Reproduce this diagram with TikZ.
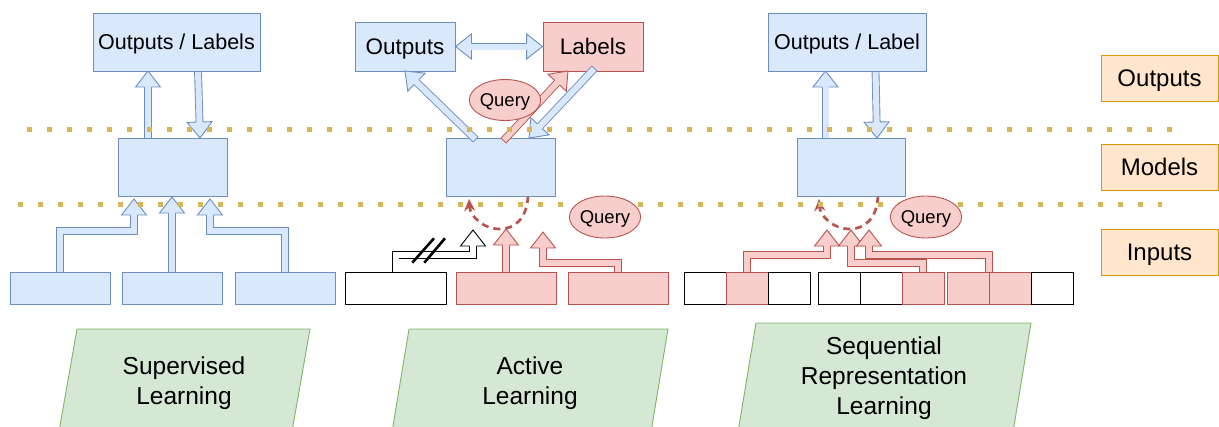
\documentclass[tikz,border=0pt]{standalone}
\usepackage{fontspec}
\setmainfont{Liberation Sans}
\usetikzlibrary{calc,shapes.geometric,arrows.meta}
\definecolor{bfill}{HTML}{DAE8FC}
\definecolor{bdraw}{HTML}{6C8EBF}
\definecolor{rfill}{HTML}{F8CECC}
\definecolor{rdraw}{HTML}{B85450}
\definecolor{ofill}{HTML}{FFE6CC}
\definecolor{odraw}{HTML}{D79B00}
\definecolor{gfill}{HTML}{D5E8D4}
\definecolor{gdraw}{HTML}{82B366}
\definecolor{dotc}{HTML}{D6B656}
\pgfdeclarelayer{bg}
\pgfsetlayers{bg,main}
\tikzset{
  box/.style={rectangle, inner sep=0pt, line width=0.9pt, text depth=0pt},
  bluebox/.style={box, fill=bfill, draw=bdraw},
  redbox/.style={box, fill=rfill, draw=rdraw},
  whitebox/.style={box, fill=white, draw=black},
  inbox/.style={minimum width=100pt, minimum height=32pt},
  cellbox/.style={minimum width=42pt, minimum height=32pt},
  modelbox/.style={bluebox, minimum width=109pt, minimum height=58pt},
  bigtext/.style={font=\fontsize{21.5}{26}\selectfont},
  midtext/.style={font=\fontsize{22.5}{27}\selectfont},
  layerbox/.style={box, fill=ofill, draw=odraw, minimum width=117pt, minimum height=46pt, font=\fontsize{24}{28}\selectfont},
  querynode/.style={ellipse, fill=rfill, draw=rdraw, line width=0.9pt, inner sep=0pt, text depth=0pt, minimum width=67pt, minimum height=42pt, font=\fontsize{18.5}{22}\selectfont},
  layerline/.style={draw=dotc, line width=5pt, dash pattern=on 5pt off 15pt},
  qarc/.style={draw=rdraw, line width=2.7pt, dash pattern=on 7pt off 5pt, -{Stealth[length=12pt,width=11pt]}},
  methodtext/.style={align=center, font=\fontsize{24.5}{30}\selectfont},
  methodshape/.style={fill=gfill, draw=gdraw, line width=0.9pt},
  blue shaft/.style={draw=bdraw, double=bfill, double distance=6pt, line width=0.9pt, line cap=rect},
  blue head/.style={draw=bdraw, fill=bfill, line width=0.9pt, line join=miter},
  red shaft/.style={draw=rdraw, double=rfill, double distance=6pt, line width=0.9pt, line cap=rect},
  red head/.style={draw=rdraw, fill=rfill, line width=0.9pt, line join=miter},
  white shaft/.style={draw=black, double=white, double distance=6pt, line width=0.9pt, line cap=rect},
  white head/.style={draw=black, fill=white, line width=0.9pt, line join=miter},
}
\newcommand\fhead[3]{%
  \filldraw[#1 head] ($#2!3.45pt!90:#3$) -- ($#2!12.5pt!90:#3$) -- #3 -- ($#2!12.5pt!-90:#3$) -- ($#2!3.45pt!-90:#3$);}
\newcommand\farrow[4]{%
  \coordinate (fB) at ($#4!16pt!#3$);
  \path[#1 shaft] #2 -- (fB);
  \fhead{#1}{(fB)}{#4}}
\begin{document}
\begin{tikzpicture}[x=1pt,y=-1pt]
\useasboundingbox (0,0) rectangle (1219,426);
\clip (0,0) rectangle (1219,426);

% ---------- panel 1 : supervised ----------
\node[bluebox, bigtext, minimum width=167pt, minimum height=58pt] (o1) at (176.5,42) {Outputs / Labels};
\node[modelbox] (m1) at (172.5,167) {};
\node[bluebox, inbox] (i1a) at (60,288) {};
\node[bluebox, inbox] (i1b) at (172,288) {};
\node[bluebox, inbox] (i1c) at (285,288) {};

% ---------- panel 2 : active ----------
\node[bluebox, midtext, minimum width=100pt, minimum height=49pt] (o2a) at (405,46.5) {Outputs};
\node[redbox, midtext, minimum width=100pt, minimum height=49pt] (o2b) at (593,46.5) {Labels};
\node[modelbox] (m2) at (500.5,167) {};
\node[whitebox, minimum width=101pt, minimum height=32pt] (i2a) at (395.5,288) {};
\node[redbox, inbox] (i2b) at (506,288) {};
\node[redbox, inbox] (i2c) at (618,288) {};

% ---------- panel 3 : sequential ----------
\node[bluebox, bigtext, minimum width=158pt, minimum height=58pt] (o3) at (847,42) {Outputs / Label};
\node[modelbox, minimum width=108pt] (m3) at (851,167) {};
\node[whitebox, cellbox] (c1) at (705,288) {};
\node[redbox, cellbox] (c2) at (747,288) {};
\node[whitebox, cellbox] (c3) at (789,288) {};
\node[whitebox, cellbox] (c4) at (839,288) {};
\node[whitebox, cellbox] (c5) at (881,288) {};
\node[redbox, cellbox] (c6) at (923,288) {};
\node[redbox, cellbox] (c7) at (968,288) {};
\node[redbox, cellbox] (c8) at (1010,288) {};
\node[whitebox, cellbox] (c9) at (1052,288) {};

% ---------- arrows behind boxes ----------
\begin{pgfonlayer}{bg}
  % panel 1
  \farrow{blue}{(m1.north -| 148,0)}{(148,138)}{(148,71)}
  \farrow{blue}{(198,71)}{(198,71)}{(200,138)}
  \farrow{blue}{(i1a.north) -- (60,231) -- (134,231)}{(134,231)}{(134,199)}
  \farrow{blue}{(i1b.north)}{(i1b.north)}{(172,197)}
  \farrow{blue}{(i1c.north) -- (285,231) -- (210,231)}{(210,231)}{(210,199)}
  % panel 2
  \draw[qarc] (528,196) .. controls (527,218) and (515,229) .. (500,229) .. controls (483,229) and (470,216) .. (469,199);
  \farrow{white}{(i2a.north) -- (395.5,255) -- (473,255)}{(473,255)}{(473,230)}
  \farrow{red}{(i2b.north)}{(i2b.north)}{(506,229)}
  \farrow{red}{(i2c.north) -- (618,263) -- (543,263)}{(543,263)}{(543,232)}
  % panel 3
  \farrow{blue}{(825.5,138)}{(825.5,138)}{(825.5,71)}
  \farrow{blue}{(875.5,71)}{(875.5,71)}{(877,138)}
  \draw[qarc] (878,196) .. controls (877,218) and (865,229) .. (850,229) .. controls (833,229) and (820,216) .. (819,199);
  \farrow{red}{(c2.north) -- (747,255) -- (827,255)}{(827,255)}{(827,230)}
  \farrow{red}{(c6.north) -- (923,263) -- (851,263)}{(851,263)}{(851,230)}
  \farrow{red}{(989,272) -- (989,255) -- (869,255)}{(869,255)}{(869,230)}
\end{pgfonlayer}

% blocked path marks
\draw[line width=2.6pt] (412.3,262.7) -- (434,238.3);
\draw[line width=2.6pt] (424.3,262.7) -- (445,238.3);

% panel 2 arrows on top
\farrow{blue}{(473,137)}{(473,137)}{(405,71)}
\farrow{red}{(506,138)}{(506,138)}{(568,71)}
\farrow{blue}{(592,71)}{(592,71)}{(529,138)}
\coordinate (dA) at ($(o2a.east)!16pt!(o2b.west)$);
\coordinate (dB) at ($(o2b.west)!16pt!(o2a.east)$);
\path[blue shaft] (dA) -- (dB);
\fhead{blue}{(dA)}{(o2a.east)}
\fhead{blue}{(dB)}{(o2b.west)}

% ---------- layer separators ----------
\draw[layerline] (27,129) -- (1172,129);
\draw[layerline] (18,204) -- (1162,204);

% ---------- query labels ----------
\node[querynode, minimum width=66pt, minimum height=41pt] (q1) at (505,100) {Query};
\node[querynode] (q2) at (605,217) {Query};
\node[querynode] (q3) at (926,217) {Query};

% ---------- layer names ----------
\node[layerbox] (lo) at (1159.5,78) {Outputs};
\node[layerbox] (lm) at (1159.5,167) {Models};
\node[layerbox] (li) at (1159.5,252) {Inputs};

% ---------- method names ----------
\path[methodshape] (77,329) -- (310,329) -- (290.5,440) -- (57.5,440) -- cycle;
\node[methodtext] (t1) at (184,383) {Supervised\\Learning};
\path[methodshape] (409,329) -- (668,329) -- (649.7,440) -- (390.7,440) -- cycle;
\node[methodtext] (t2) at (530,383) {Active\\Learning};
\path[methodshape] (756,323) -- (1031,323) -- (1011.7,440) -- (736.7,440) -- cycle;
\node[methodtext] (t3) at (884,378) {Sequential\\Representation\\Learning};
\end{tikzpicture}
\end{document}
